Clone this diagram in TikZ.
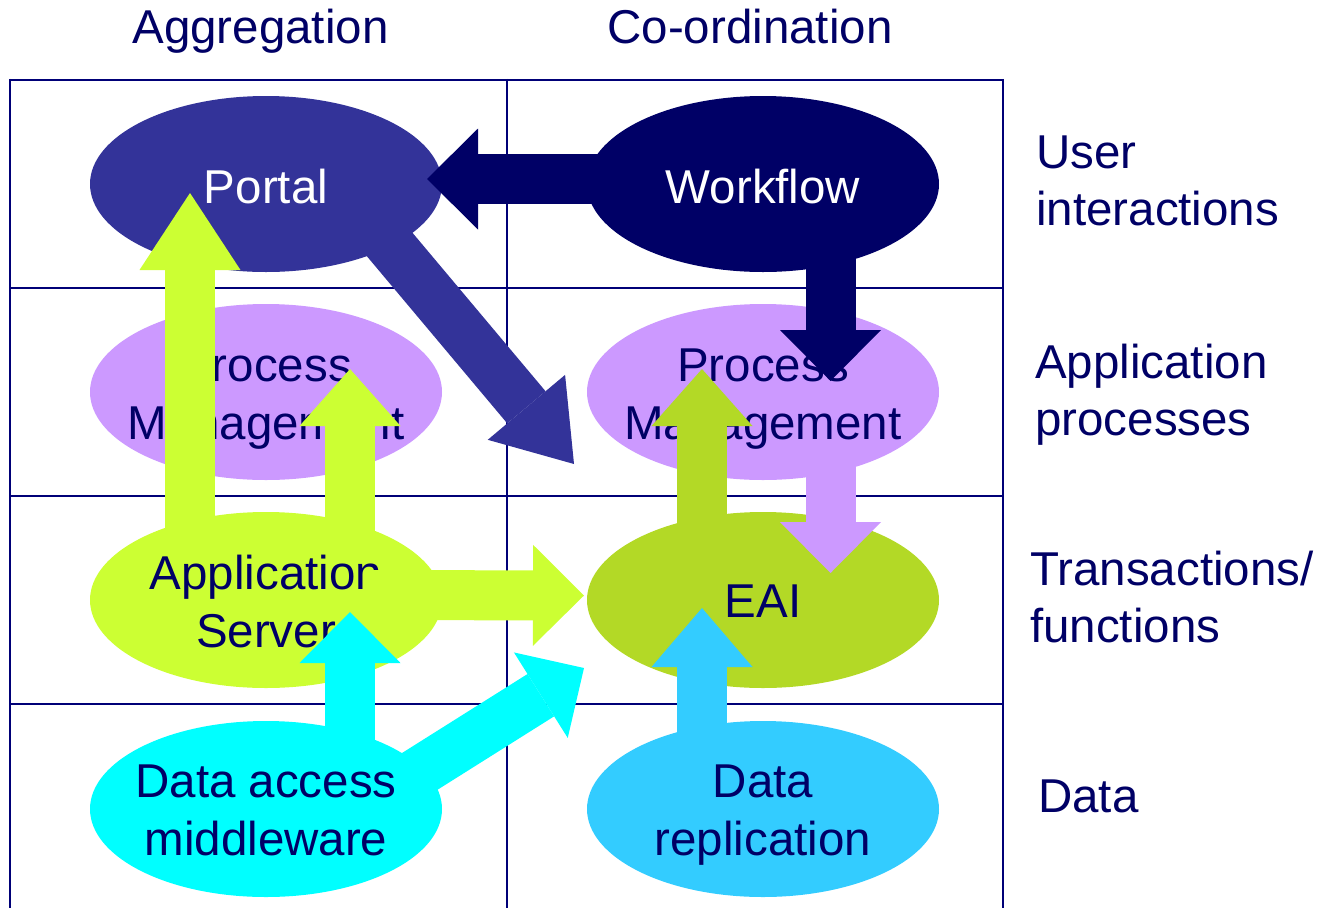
\documentclass[tikz,border=0pt]{standalone}
\usepackage{fontspec}
\setmainfont{Liberation Sans}
\usetikzlibrary{arrows.meta,shapes.geometric,calc}
\definecolor{txtnavy}{HTML}{000066}
\definecolor{gridnavy}{HTML}{000077}
\definecolor{cportal}{HTML}{333399}
\definecolor{cworkflow}{HTML}{000066}
\definecolor{cprocess}{HTML}{CC99FF}
\definecolor{capp}{HTML}{CCFF33}
\definecolor{ceai}{HTML}{B3D926}
\definecolor{cdam}{HTML}{00FFFF}
\definecolor{crep}{HTML}{33CCFF}
\begin{document}
\begin{tikzpicture}[x=1pt,y=-1pt,
  blob/.style={ellipse, minimum width=352pt, minimum height=176pt, inner sep=0pt, draw=none},
  lbl/.style={font=\fontsize{47.5}{57}\selectfont, text=txtnavy, inner sep=0pt, anchor=base},
  wlbl/.style={lbl, text=white},
  side/.style={lbl, anchor=base west},
  gridline/.style={draw=gridnavy, line width=2.2pt},
  blockarrow/.style={line width=50pt, -{Triangle[length=#1, width=101pt, line width=0pt]}}
]
\useasboundingbox (0,0) rectangle (1333,908);

% grid
\draw[gridline] (10,80) -- (1003,80);
\draw[gridline] (10,288) -- (1003,288);
\draw[gridline] (10,496) -- (1003,496);
\draw[gridline] (10,704) -- (1003,704);
\draw[gridline] (10,78.9) -- (10,908);
\draw[gridline] (507,78.9) -- (507,908);
\draw[gridline] (1003,78.9) -- (1003,908);

% column headers
\node[lbl] (hagg) at (260.5,43) {Aggregation};
\node[lbl] (hco) at (750,43) {Co-ordination};

% row labels
\node[side] (ruser1) at (1036,168) {User};
\node[side] (ruser2) at (1036,225) {interactions};
\node[side] (rapp1) at (1035,378) {Application};
\node[side] (rapp2) at (1035,435) {processes};
\node[side] (rtr1) at (1030,585) {Transactions/};
\node[side] (rtr2) at (1030,642) {functions};
\node[side] (rdata) at (1038,812) {Data};

% ellipses
\node[blob, fill=cportal] (portal) at (266,184) {};
\node[blob, fill=cworkflow] (workflow) at (763,184) {};
\node[blob, fill=cprocess] (pmL) at (266,392) {};
\node[blob, fill=cprocess] (pmR) at (763,392) {};
\node[blob, fill=capp] (app) at (266,600) {};
\node[blob, fill=ceai] (eai) at (763,600) {};
\node[blob, fill=cdam] (dam) at (266,809) {};
\node[blob, fill=crep] (drep) at (763,809) {};

% ellipse texts
\node[wlbl] (tportal) at (266,203) {Portal};
\node[wlbl] (tworkflow) at (763,203) {Workflow};
\node[lbl] (tpmL1) at (266,381) {Process};
\node[lbl] (tpmL2) at (266,439) {Management};
\node[lbl] (tpmR1) at (763,381) {Process};
\node[lbl] (tpmR2) at (763,439) {Management};
\node[lbl] (tapp1) at (266,589) {Application};
\node[lbl] (tapp2) at (266,647) {Server};
\node[lbl] (teai) at (763,617) {EAI};
\node[lbl] (tdam1) at (266,797) {Data access};
\node[lbl] (tdam2) at (266,855) {middleware};
\node[lbl] (tdrep1) at (763,797) {Data};
\node[lbl] (tdrep2) at (763,855) {replication};

% arrow end coordinates
\coordinate (a1s) at ($(workflow)+(-153,-5)$);
\coordinate (a1t) at ($(portal)+(161,-5)$);
\coordinate (a2s) at ($(workflow)+(67.5,61)$);
\coordinate (a2t) at ($(pmR)+(67.5,-11)$);
\coordinate (a3s) at ($(pmR)+(67.5,58)$);
\coordinate (a3t) at ($(eai)+(67.5,-27)$);
\coordinate (a4s) at ($(eai)+(-61,-60)$);
\coordinate (a4t) at ($(pmR)+(-61,-23)$);
\coordinate (a5s) at ($(drep)+(-61,-64)$);
\coordinate (a5t) at ($(eai)+(-61,8)$);
\coordinate (a6s) at ($(app)+(84,-60)$);
\coordinate (a6t) at ($(pmL)+(84,-23)$);
\coordinate (a7s) at ($(app)+(-76,-65)$);
\coordinate (a7t) at ($(portal)+(-76,9)$);
\coordinate (a8s) at ($(app)+(107,-5)$);
\coordinate (a8t) at ($(eai)+(-179,-4.5)$);
\coordinate (a9s) at ($(dam)+(84,-59)$);
\coordinate (a9t) at ($(app)+(84,12)$);
\coordinate (a10s) at ($(dam)+(148,-34)$);
\coordinate (a10t) at ($(eai)+(-179,68)$);
\coordinate (a11s) at ($(portal)+(112.6,47.3)$);
\coordinate (a11t) at ($(eai)+(-189,-136)$);

% block arrows
\draw[blockarrow=51pt, cworkflow] (a1s) -- (a1t);
\draw[blockarrow=51pt, cworkflow] (a2s) -- (a2t);
\draw[blockarrow=74pt, cportal] (a11s) -- (a11t);
\draw[blockarrow=51pt, cprocess] (a3s) -- (a3t);
\draw[blockarrow=57pt, ceai] (a4s) -- (a4t);
\draw[blockarrow=59pt, crep] (a5s) -- (a5t);
\draw[blockarrow=77pt, capp] (a7s) -- (a7t);
\draw[blockarrow=57pt, capp] (a6s) -- (a6t);
\draw[blockarrow=51pt, capp] (a8s) -- (a8t);
\draw[blockarrow=51pt, cdam] (a9s) -- (a9t);
\draw[blockarrow=51pt, cdam] (a10s) -- (a10t);
\end{tikzpicture}
\end{document}
